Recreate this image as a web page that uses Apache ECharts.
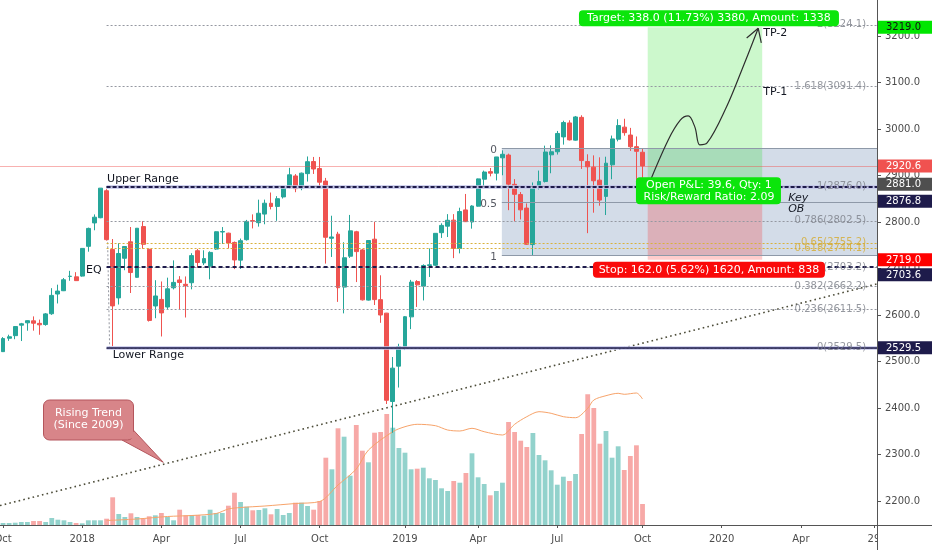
<!DOCTYPE html>
<html><head><meta charset="utf-8">
<script src="https://cdn.jsdelivr.net/npm/echarts@6/dist/echarts.min.js"></script>
<style>html,body{margin:0;padding:0;background:#fff;}#c{width:932px;height:550px;}</style>
</head><body><div id="c"></div>
<script>
// weekly candles from week of 2017-10-02 : [open, high, low, close]
const candles = [
[2521.2,2552.5,2520.4,2549.3],[2550.0,2557.6,2544.4,2553.2],[2555.6,2575.4,2547.9,2575.2],[2578.1,2583.0,2544.0,2581.1],
[2583.2,2588.4,2566.2,2587.8],[2587.5,2597.0,2566.3,2582.3],[2582.0,2590.1,2557.5,2578.9],[2579.5,2604.2,2576.9,2602.4],
[2602.7,2657.7,2600.3,2642.2],[2645.1,2665.2,2624.8,2651.5],[2652.2,2679.6,2651.5,2675.8],[2683.0,2695.0,2673.6,2683.3],
[2682.1,2692.1,2673.6,2673.9],[2683.7,2743.5,2682.4,2743.2],[2747.7,2787.9,2736.1,2786.2],[2798.0,2816.3,2782.2,2810.3],
[2809.2,2872.9,2808.1,2872.8],[2867.2,2870.6,2760.0,2762.1],[2741.0,2763.4,2532.7,2619.6],[2636.8,2754.4,2622.5,2732.2],
[2722.0,2747.8,2696.3,2747.3],[2757.4,2789.2,2647.3,2691.3],[2681.0,2787.0,2680.0,2786.6],[2790.2,2801.9,2742.4,2752.0],
[2741.4,2743.0,2585.9,2588.3],[2619.4,2674.8,2593.1,2640.9],[2633.5,2672.1,2553.8,2604.5],[2617.2,2680.3,2610.8,2656.3],
[2658.5,2717.5,2655.0,2670.1],[2675.4,2683.6,2612.7,2669.9],[2666.0,2682.9,2594.6,2663.4],[2669.4,2732.9,2655.2,2727.7],
[2738.3,2742.1,2701.9,2713.0],[2712.0,2739.2,2707.4,2721.3],[2705.1,2736.9,2676.8,2734.6],[2741.7,2779.9,2740.0,2779.0],
[2778.5,2789.1,2752.7,2779.4],[2776.0,2777.0,2743.2,2754.9],[2756.0,2758.0,2698.7,2718.4],[2718.0,2764.4,2699.0,2759.8],
[2762.0,2804.5,2760.0,2801.3],[2803.0,2816.4,2786.2,2801.8],[2798.5,2848.0,2790.0,2818.8],[2817.0,2848.1,2795.1,2840.4],
[2840.3,2863.4,2827.1,2833.3],[2833.5,2855.6,2802.5,2850.1],[2853.9,2876.2,2850.5,2874.7],[2876.0,2916.5,2872.0,2901.5],
[2899.0,2903.0,2864.1,2871.7],[2873.0,2906.3,2868.3,2905.0],[2904.0,2940.9,2886.9,2929.7],[2930.0,2939.9,2903.3,2914.0],
[2915.0,2939.9,2874.3,2885.6],[2888.0,2894.8,2710.5,2767.1],[2765.0,2813.5,2724.8,2767.8],[2773.9,2778.9,2628.2,2658.7],
[2660.0,2756.5,2603.5,2723.1],[2726.4,2815.2,2722.7,2781.0],[2779.0,2781.0,2670.8,2736.3],[2740.0,2742.0,2631.1,2632.6],
[2632.0,2760.9,2631.0,2760.2],[2763.0,2800.2,2621.5,2633.1],[2633.0,2685.4,2583.2,2600.0],[2604.0,2604.5,2408.6,2416.6],
[2414.0,2509.6,2346.6,2485.7],[2490.0,2538.1,2444.0,2531.9],[2532.0,2597.8,2524.6,2596.3],[2596.0,2675.5,2569.6,2670.7],
[2672.0,2675.0,2617.3,2664.8],[2662.0,2709.0,2631.3,2706.5],[2706.5,2743.1,2681.8,2707.9],[2707.0,2775.7,2705.6,2775.6],
[2777.0,2797.2,2765.7,2792.7],[2791.0,2816.9,2767.7,2803.7],[2804.0,2816.9,2722.3,2743.1],[2743.0,2830.7,2732.5,2822.5],
[2826.0,2860.3,2800.2,2800.7],[2800.0,2836.0,2785.7,2834.4],[2834.0,2893.4,2833.0,2892.7],[2892.0,2910.5,2873.3,2907.4],
[2908.3,2916.1,2898.2,2905.0],[2905.0,2940.0,2889.4,2939.9],[2938.0,2954.1,2900.5,2945.6],[2944.0,2947.0,2825.4,2881.4],
[2881.0,2892.2,2801.4,2859.5],[2859.0,2864.4,2805.5,2826.1],[2830.0,2840.0,2750.5,2752.1],[2751.5,2885.0,2728.8,2873.3],
[2875.0,2910.6,2870.0,2887.0],[2887.0,2964.2,2885.0,2950.5],[2944.5,2964.9,2904.8,2951.0],[2951.0,2995.8,2945.0,2990.4],
[2983.0,3017.8,2966.4,3013.8],[3013.0,3018.8,2975.3,2976.6],[2976.0,3028.0,2975.0,3025.9],[3025.0,3029.5,2914.1,2932.1],
[2930.0,2945.6,2776.0,2918.7],[2918.0,2943.3,2820.0,2888.7],[2890.0,2939.1,2835.0,2847.1],[2855.0,2940.4,2815.0,2926.5],
[2923.0,2985.9,2891.9,2978.7],[2978.0,3021.0,2973.4,3007.4],[3004.0,3022.0,2985.6,2992.1],[2987.0,3002.4,2952.9,2961.8],
[2962.0,2983.9,2856.0,2952.0],[2950.0,2957.0,2895.0,2920.6]
];
// weekly volume (relative units)
const volumes = [
0.2,0.2,0.23,0.3,0.3,0.4,0.4,0.3,0.7,0.53,0.47,0.3,0.2,0.17,0.47,0.47,0.47,0.63,2.77,1.1,
0.8,1.17,0.8,0.67,0.87,0.97,1.2,0.8,0.47,1.53,0.97,1.0,1.0,0.93,1.53,1.2,1.2,1.93,3.23,2.3,
1.83,1.47,1.5,1.67,1.07,1.6,1.0,1.2,2.23,2.23,1.9,1.53,2.4,
6.73,5.57,9.67,8.83,4.93,10.0,7.43,6.27,9.23,9.3,11.1,9.73,7.7,7.23,5.57,5.63,5.73,4.67,4.5,3.67,
3.4,4.4,4.23,5.2,7.17,4.77,4.1,2.97,3.4,4.23,10.3,9.3,8.43,7.8,9.2,7.0,6.47,5.47,4.03,4.83,
4.4,5.1,9.1,13.07,11.7,8.13,9.4,6.73,7.87,5.5,6.9,7.97,2.1
];
// volume overlay line [week, value]
const volLine = [[17,0.45],[22,0.6],[27,0.85],[31,0.95],[35,1.15],[37,1.6],[39,1.75],[43,1.9],[48,2.15],[52,2.35],
[55,4.0],[58,5.6],[60,7.5],[64,9.33],[66,9.83],[68,10.07],[71,9.93],[73,9.5],[75,9.4],[77,9.67],[79,9.33],[82,9.0],
[84,10.07],[86,10.83],[88,11.33],[90,11.17],[92,10.83],[94,10.73],[96,11.67],[97,12.5],[99,12.93],[101,13.17],[102,13.07],[104,13.2],[105,12.6]];

const tickIdx = [0,13,26,39,52,66,78,91,105,118,131,143];
const tickLabels = ['Oct','2018','Apr','Jul','Oct','2019','Apr','Jul','Oct','2020','Apr','29'];
const priceTicks = [2200,2300,2400,2500,2600,2700,2800,2900,3000,3100,3200];

const fibLevels = [0,0.236,0.382,0.5,0.618,0.65,0.786,1,1.618,2];
const fibPrices = [2529.5,2611.5,2662.2,2703.2,2744.1,2755.2,2802.5,2876.0,3091.4,3224.1];
const rangeNames = ['Upper Range','EQ','Lower Range'];
const rangePrices = [2876.8,2703.6,2529.5];
const obLevels = ['0','0.5','1'];
const obPrices = [2958.0,2843.4,2728.8];
const entryPrice = 2881.0, targetPrice = 3219.0, stopPrice = 2719.0, lastPrice = 2920.6;
const trendPts = [[-0.5,2190.2],[143.5,2666.8]];
const pathPts = [[105.9,2877],[109.2,2976],[111.2,3019],[112.5,3028],[113.6,3004],[114.4,2966],[115.6,2970],[118.8,3048],[121.3,3127],[124.0,3216.5]];
const headPts = [[122.1,3195.7],[124.0,3216.5],[124.5,3185]];

const N = 144, RS = 17, OB0 = 81.9, POS0 = 105.85, POS1 = 124.65, XEND = N - 0.5;
const F = '"DejaVu Sans"';
const UP = '#26a69a', DN = '#ef5350';

const chart = echarts.init(document.getElementById('c'), null, {renderer:'canvas', width:932, height:550});

const hl = (x0, x1, y, style) => [{coord:[x0,y], lineStyle:style}, {coord:[x1,y]}];
const levelLines = [];
// soft bands under the range boundaries
levelLines.push(hl(RS, XEND, rangePrices[0], {color:'#c3c5ea', width:3.5, type:'solid'}));
levelLines.push(hl(RS, XEND, rangePrices[2], {color:'#c3c5ea', width:3.5, type:'solid'}));
fibPrices.forEach((p,i)=>{
  const gold = fibLevels[i]===0.618 || fibLevels[i]===0.65;
  levelLines.push(hl(RS, XEND, p, {color: gold ? '#d9b13b' : '#9598a1', width:1, type:[2,2]}));
});
levelLines.push(hl(RS, XEND, rangePrices[0], {color:'#1e1b4b', width:1.8, type:[4,2]}));
levelLines.push(hl(RS, XEND, rangePrices[1], {color:'#1e1b4b', width:1.8, type:[4,3]}));
levelLines.push(hl(RS, XEND, rangePrices[2], {color:'#1e1b4b', width:1.5, type:'solid'}));
obPrices.forEach(p=>levelLines.push(hl(OB0, XEND, p, {color:'#8e99a8', width:1, type:'solid'})));
levelLines.push(hl(-0.5, XEND, lastPrice, {color:'rgba(239,83,80,0.45)', width:1, type:'solid'}));

const option = {
  animation:false,
  backgroundColor:'#ffffff',
  textStyle:{fontFamily:'DejaVu Sans'},
  grid:{left:0, right:55, top:0, bottom:25, containLabel:false, outerBoundsMode:'none'},
  xAxis:{type:'value', min:-0.5, max:XEND,
    axisLine:{show:true, onZero:false, lineStyle:{color:'#555', width:1}},
    axisTick:{show:true, customValues:tickIdx, length:3, lineStyle:{color:'#555'}},
    axisLabel:{show:true, customValues:tickIdx, color:'#4c4c4c', fontSize:10, fontFamily:'DejaVu Sans', margin:9,
      formatter:v=>{const k=tickIdx.indexOf(Math.round(v)); return k>=0?tickLabels[k]:'';}},
    splitLine:{show:false}},
  yAxis:[
    {type:'value', position:'right', min:2148.4, max:3277.4,
      axisLine:{show:true, onZero:false, lineStyle:{color:'#555', width:1}},
      axisTick:{show:true, customValues:priceTicks, length:4, lineStyle:{color:'#555'}},
      axisLabel:{show:true, customValues:priceTicks, color:'#4c4c4c', fontSize:10, fontFamily:'DejaVu Sans', margin:8,
        formatter:v=>Number(v).toFixed(1)},
      splitLine:{show:false}},
    {type:'value', min:0, max:52.5, show:false, axisLine:{show:false, onZero:false}, axisTick:{show:false}, axisLabel:{show:false}, splitLine:{show:false}}
  ],
  series:[
    {type:'line', name:'areas', data:[], silent:true, z:1,
      markArea:{silent:true, data:[
        [{coord:[OB0, obPrices[0]], itemStyle:{color:'rgba(110,140,180,0.3)'}}, {coord:[XEND, obPrices[2]]}],
        [{coord:[POS0, entryPrice], itemStyle:{color:'rgba(0,220,0,0.2)'}}, {coord:[POS1, targetPrice]}],
        [{coord:[POS0, stopPrice], itemStyle:{color:'rgba(255,0,0,0.2)'}}, {coord:[POS1, entryPrice]}]
      ]}},
    {type:'bar', name:'vol', yAxisIndex:1, barWidth:4.8, z:2, silent:true,
      data: volumes.map((v,i)=>({value:[i,v], itemStyle:{color: candles[i][3]>=candles[i][0] ? 'rgba(38,166,154,0.5)' : 'rgba(239,83,80,0.5)'}}))},
    {type:'line', name:'volLine', yAxisIndex:1, data:volLine, symbol:'none', smooth:0.3, z:2, silent:true,
      lineStyle:{color:'#f7a36a', width:1}},
    {type:'line', name:'levels', data:[], silent:true, z:3,
      markLine:{silent:true, symbol:['none','none'], label:{show:false}, animation:false, data:levelLines}},
    {type:'line', name:'trend', data:trendPts, symbol:'none', silent:true, z:3,
      lineStyle:{color:'#4d4d3a', width:1.6, type:[1.6,3.2]}},
    {type:'line', name:'fibAnchor', data:[[RS,2876.8],[RS+0.5,2529.5]], symbol:'none', silent:true, z:3,
      lineStyle:{color:'#9598a1', width:1, type:[2,2]}},
    {type:'candlestick', name:'price', z:4, barWidth:4.4, silent:true,
      data: candles.map((c,i)=>[i,c[0],c[3],c[2],c[1]]),
      encode:{x:0, y:[1,2,3,4]},
      itemStyle:{color:UP, color0:DN, borderColor:UP, borderColor0:DN, borderWidth:1}},
    {type:'line', name:'path', data:pathPts, symbol:'none', smooth:0.35, silent:true, z:5,
      lineStyle:{color:'#2e2e2e', width:1.2}},
    {type:'line', name:'head', data:headPts, symbol:'none', silent:true, z:5,
      lineStyle:{color:'#2e2e2e', width:1.2}},
    {type:'scatter', name:'fibLbl', symbolSize:0, silent:true, z:6,
      data: fibPrices.map((p,i)=>({value:[141.7,p], name:`${fibLevels[i]}(${p.toFixed(1)})`,
        label:{color:(fibLevels[i]===0.618||fibLevels[i]===0.65)?'#d4aa2e':'#7b7e87'}})),
      label:{show:true, position:'left', distance:0, fontSize:10, fontFamily:'DejaVu Sans', formatter:p=>p.name}},
    {type:'scatter', name:'obLbl', symbolSize:0, silent:true, z:6,
      data: obPrices.map((p,i)=>({value:[OB0,p], name:obLevels[i]})),
      label:{show:true, position:'left', distance:5, offset:[0,2], fontSize:10.5, color:'#2a2e39', fontFamily:'DejaVu Sans', formatter:p=>p.name}}
  ]
};
chart.setOption(option);

const toPx = (x,y) => chart.convertToPixel({xAxisIndex:0, yAxisIndex:0}, [x,y]);
const py = v => toPx(0, v)[1];
const pxX = x => toPx(x, 3000)[0];

function txt(x, y, text, o, z) {
  return {type:'text', z: z || 130, silent:true,
    style:Object.assign({x, y, text, fill:'#131722', font:'11px '+F, textAlign:'left', textVerticalAlign:'middle', align:'left', verticalAlign:'middle'}, o||{})};
}
function tag(v, bg, fg, dy) {
  const y = py(v) + (dy||0);
  return [
    {type:'rect', z:140, silent:true, shape:{x:877.5, y:y-6.5, width:55, height:13}, style:{fill:bg}},
    txt(886, y+0.5, v.toFixed(1), {fill:fg, font:'10px '+F}, 145)
  ];
}
const g = [];
// range labels
g.push(txt(pxX(RS)+0.5, py(rangePrices[0])-7, rangeNames[0]));
g.push(txt(pxX(RS)-5, py(rangePrices[1])+3, rangeNames[1], {textAlign:'right', align:'right'}));
g.push(txt(pxX(RS+1), py(rangePrices[2])+7, rangeNames[2]));
// TP labels, Key OB
g.push(txt(pxX(POS1)+1, py(fibPrices[9])+8.5, 'TP-2'));
g.push(txt(pxX(POS1)+1, py(fibPrices[8])+6, 'TP-1'));
g.push(txt(pxX(POS1)+26, py(entryPrice)+14, 'Key', {font:'italic 11px '+F}));
g.push(txt(pxX(POS1)+26, py(entryPrice)+25, 'OB', {font:'italic 11px '+F}));
// position labels
const cx = (pxX(POS0)+pxX(POS1))/2 + 4;
const lblGreen = '#0be50b';
g.push({type:'rect', z:105, silent:true, shape:{x:cx-130, y:py(targetPrice)-17, width:260, height:16, r:4}, style:{fill:lblGreen}});
g.push(txt(cx, py(targetPrice)-9, 'Target: 338.0 (11.73%) 3380, Amount: 1338', {fill:'#fff', textAlign:'center', align:'center'}));
g.push({type:'rect', z:105, silent:true, shape:{x:cx-73, y:py(entryPrice)-7, width:145, height:27, r:4}, style:{fill:lblGreen}});
g.push(txt(cx, py(entryPrice)+6.5, 'Open P&L: 39.6, Qty: 1\nRisk/Reward Ratio: 2.09', {fill:'#fff', textAlign:'center', align:'center', lineHeight:12}));
g.push({type:'rect', z:105, silent:true, shape:{x:cx-116, y:py(stopPrice)+2, width:232, height:16, r:4}, style:{fill:'#fa0a0a'}});
g.push(txt(cx, py(stopPrice)+10, 'Stop: 162.0 (5.62%) 1620, Amount: 838', {fill:'#fff', textAlign:'center', align:'center'}));
// callout
g.push({type:'polygon', z:101, silent:true, shape:{points:[[122,440],[133.3,430],[163.3,462.3]]}, style:{fill:'#d88589', stroke:'#b4555c', lineWidth:1}});
g.push({type:'rect', z:102, silent:true, shape:{x:43.5, y:400, width:90, height:40, r:6}, style:{fill:'#d88589', stroke:'#b4555c', lineWidth:1}});
g.push({type:'polygon', z:103, silent:true, shape:{points:[[123.5,439],[132.8,431],[140,438]]}, style:{fill:'#d88589'}});
g.push(txt(88.5, 413.5, 'Rising Trend', {fill:'#fff', textAlign:'center', align:'center'}));
g.push(txt(88.5, 425, '(Since 2009)', {fill:'#fff', textAlign:'center', align:'center'}));
// price tags
[[targetPrice,'#00e600','#111',0],[lastPrice,'#f05250','#fff',0],[entryPrice,'#4f4f4f','#fff',0],
 [rangePrices[0],'#1e1b4b','#fff',15],[stopPrice,'#ff0000','#fff',0],[rangePrices[1],'#1e1b4b','#fff',8],
 [rangePrices[2],'#1e1b4b','#fff',0]].forEach(t=>g.push(...tag(t[0],t[1],t[2],t[3])));
// panel separators
g.push({type:'rect', z:150, silent:true, shape:{x:877.5, y:525.5, width:55, height:25}, style:{fill:'#fff'}});
g.push({type:'line', z:151, silent:true, shape:{x1:877, y1:525.5, x2:932, y2:525.5}, style:{stroke:'#555', lineWidth:1}});
g.push({type:'line', z:151, silent:true, shape:{x1:877.5, y1:0, x2:877.5, y2:550}, style:{stroke:'#555', lineWidth:1}});
chart.setOption({graphic:g});
</script></body></html>
